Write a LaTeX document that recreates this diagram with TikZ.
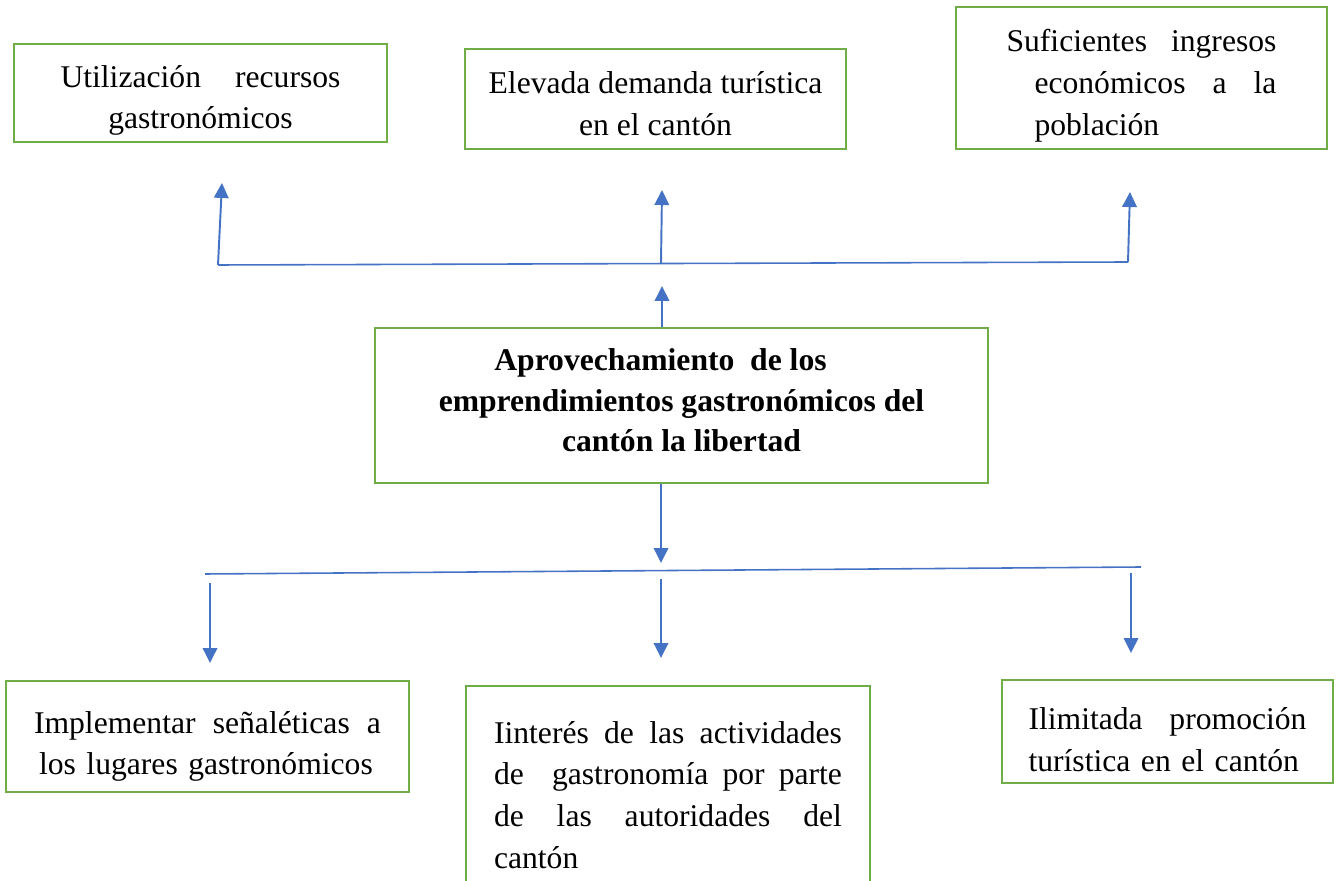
\documentclass[tikz,border=0pt]{standalone}
\usepackage{fontspec}
\setmainfont{Liberation Serif}
\usetikzlibrary{arrows.meta}
\definecolor{boxgreen}{HTML}{70AD47}
\definecolor{lineblue}{HTML}{4472C4}
\tikzset{
  cajon/.style={draw=boxgreen, line width=1.4pt, inner sep=0pt, font=\fontsize{18}{23.8}\selectfont},
  flecha/.style={draw=lineblue, line width=1.1pt, -{Triangle[length=0.3cm,width=0.29cm]}},
  raya/.style={draw=lineblue, line width=0.9pt},
}
\newcommand{\llena}[2]{{\spaceskip=0.25em plus 1fil\relax\makebox[#1][s]{#2}}}
\newcommand{\baja}[2]{\raisebox{0pt}[\dimexpr\height+#1\relax]{#2}}
\newcommand{\sube}[2]{\raisebox{0pt}[\height][\dimexpr\depth+#1\relax]{#2}}

\begin{document}
\begin{tikzpicture}[x=0.02cm, y=-0.02cm]
\useasboundingbox (0,0) rectangle (1336,881);
\clip (0,0) rectangle (1336,881);
% efectos
\node[cajon, minimum width=7.46cm, minimum height=1.96cm, align=center] (util) at (200.5,93)
  {\baja{0.3cm}{\llena{5.6cm}{Utilización recursos}}\\gastronómicos};
\node[cajon, minimum width=7.62cm, minimum height=2cm, align=center] (demanda) at (655.5,99)
  {\baja{0.18cm}{Elevada demanda turística}\\en el cantón};
\node[cajon, minimum width=7.42cm, minimum height=2.84cm, text width=5.4cm, align=left] (ingresos) at (1141.5,78)
  {\baja{0.32cm}{\llena{5.4cm}{Suficientes ingresos}}\\\hspace*{0.56cm}\llena{4.84cm}{económicos a la}\\\hspace*{0.56cm}población};
% problema central
\node[cajon, font=\fontsize{18}{23}\selectfont\bfseries, minimum width=12.26cm, minimum height=3.1cm, align=center] (centro) at (681.5,405.5)
  {Aprovechamiento\ \ de los\hspace*{0.84cm}\\emprendimientos gastronómicos del\\\sube{0.2cm}{cantón la libertad}};
% causas
\node[cajon, minimum width=8.06cm, minimum height=2.22cm, text width=6.94cm, align=left] (senal) at (207.5,736.5)
  {\baja{0.4cm}{\llena{6.94cm}{Implementar señaléticas a}}\\\hspace*{0.1cm}los lugares gastronómicos};
\node[cajon, minimum width=8.08cm, minimum height=4.36cm, text width=6.96cm, align=left] (interes) at (668,795)
  {\llena{6.96cm}{Iinterés de las actividades}\\\llena{6.96cm}{de\ \ gastronomía por parte}\\\llena{6.96cm}{de las autoridades del}\\cantón};
\node[cajon, minimum width=6.62cm, minimum height=2.06cm, text width=5.56cm, align=left] (promo) at (1167.5,731.5)
  {\baja{0.32cm}{\llena{5.56cm}{Ilimitada promoción}}\\turística en el cantón};

\coordinate (s1) at (218,265);
\coordinate (s2) at (661,264);
\coordinate (s3) at (1128,262);
\coordinate (f1) at (222,183);
\coordinate (f2) at (662,190);
\coordinate (f3) at (1130,192);
\coordinate (c1) at (662,286);
\draw[raya] (s1) -- (s3);
\draw[flecha] (s1) -- (f1);
\draw[flecha] (s2) -- (f2);
\draw[flecha] (s3) -- (f3);
\draw[flecha] (centro.north -| c1) -- (c1);

\coordinate (c2) at (661,563);
\coordinate (i1) at (205,574);
\coordinate (i3) at (1141,567);
\coordinate (d1) at (210,583);
\coordinate (d2) at (661,579);
\coordinate (d3) at (1131,573);
\coordinate (e1) at (210,663);
\coordinate (e2) at (661,658);
\coordinate (e3) at (1131,653);
\draw[flecha] (centro.south -| c2) -- (c2);
\draw[raya] (i1) -- (i3);
\draw[flecha] (d1) -- (e1);
\draw[flecha] (d2) -- (e2);
\draw[flecha] (d3) -- (e3);
\end{tikzpicture}
\end{document}
